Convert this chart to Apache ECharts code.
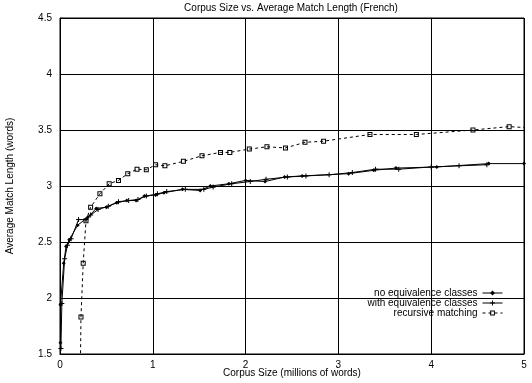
<!DOCTYPE html>
<html>
<head>
<meta charset="utf-8">
<script src="https://cdn.jsdelivr.net/npm/echarts@6/dist/echarts.min.js"></script>
<style>html,body{margin:0;padding:0;background:#fff}#c{width:532px;height:383px}</style>
</head>
<body>
<div id="c"></div>
<script>
var titleText = 'Corpus Size vs. Average Match Length (French)';
var xName = 'Corpus Size (millions of words)';
var yName = 'Average Match Length (words)';
var seriesNames = ['no equivalence classes', 'with equivalence classes', 'recursive matching'];

var noEquiv = [[0.005,1.60],[0.005,1.94],[0.04,2.31],[0.065,2.46],[0.10,2.52],[0.19,2.65],[0.30,2.72],[0.39,2.80],[0.50,2.81],[0.61,2.85],[0.72,2.87],[0.82,2.87],[0.91,2.91],[1.03,2.92],[1.12,2.94],[1.32,2.97],[1.51,2.96],[1.62,3.00],[1.82,3.02],[2.00,3.05],[2.21,3.04],[2.42,3.08],[2.61,3.09],[3.11,3.11],[3.38,3.14],[3.62,3.16],[4.06,3.17],[4.62,3.20],[5.00,3.20]];
var withEquiv = [[0.01,1.55],[0.02,1.95],[0.05,2.35],[0.08,2.47],[0.12,2.53],[0.20,2.70],[0.28,2.70],[0.33,2.74],[0.41,2.79],[0.52,2.82],[0.63,2.86],[0.74,2.87],[0.84,2.88],[0.93,2.91],[1.05,2.93],[1.15,2.95],[1.35,2.97],[1.55,2.97],[1.65,2.99],[1.85,3.02],[2.05,3.04],[2.22,3.06],[2.45,3.08],[2.65,3.09],[2.90,3.10],[3.15,3.12],[3.40,3.15],[3.65,3.15],[4.00,3.17],[4.30,3.18],[4.60,3.19]];
var recursive = [[0.22,1.40],[0.226,1.83],[0.25,2.31],[0.28,2.69],[0.33,2.81],[0.43,2.93],[0.53,3.02],[0.63,3.05],[0.73,3.11],[0.83,3.15],[0.93,3.145],[1.03,3.19],[1.13,3.18],[1.33,3.22],[1.53,3.27],[1.73,3.30],[1.83,3.30],[2.04,3.33],[2.23,3.35],[2.43,3.34],[2.64,3.39],[2.84,3.40],[3.34,3.46],[3.84,3.46],[4.45,3.50],[4.84,3.53],[5.05,3.52]];

var font = 'Liberation Sans, Arial, Helvetica, sans-serif';
var chart = echarts.init(document.getElementById('c'), null, {renderer: 'canvas'});
var plusPath = 'path://M4,0H6V4H10V6H6V10H4V6H0V4H4Z';
var hollowSquare = 'path://M0,0H10V10H0Z M2,2V8H8V2Z';
chart.setOption({
  animation: false,
  backgroundColor: '#fff',
  title: {text: titleText, left: 286, top: -2, textAlign: 'center',
    textStyle: {fontFamily: font, fontSize: 10, fontWeight: 'normal', color: '#000'}},
  grid: {left: 60, right: 8, top: 18, bottom: 29, show: true, borderColor: '#000', borderWidth: 1,
    containLabel: false, outerBoundsMode: 'none'},
  legend: {
    orient: 'vertical', right: 24, top: 283, align: 'right', itemWidth: 20, itemHeight: 6, itemGap: 0,
    lineStyle: {width: 1},
    textStyle: {fontFamily: font, fontSize: 10, color: '#000', padding: [0, 0, 0, 0]},
    data: seriesNames
  },
  xAxis: {
    type: 'value', min: 0, max: 5, interval: 1,
    name: xName, nameLocation: 'middle', nameGap: 14, nameMoveOverlap: false,
    nameTextStyle: {fontFamily: font, fontSize: 10, color: '#000'},
    axisLine: {lineStyle: {color: '#000'}},
    axisTick: {show: false},
    axisLabel: {fontFamily: font, fontSize: 10, color: '#000', margin: 6},
    splitLine: {show: true, lineStyle: {color: '#000', width: 1}}
  },
  yAxis: {
    type: 'value', min: 1.5, max: 4.5, interval: 0.5,
    name: yName, nameLocation: 'middle', nameGap: 45, nameMoveOverlap: false,
    nameTextStyle: {fontFamily: font, fontSize: 10, color: '#000'},
    axisLine: {lineStyle: {color: '#000'}},
    axisTick: {show: false},
    axisLabel: {fontFamily: font, fontSize: 10, color: '#000', margin: 8},
    splitLine: {show: true, lineStyle: {color: '#000', width: 1}}
  },
  series: [
    {name: seriesNames[0], type: 'line', data: noEquiv, symbol: 'diamond', symbolSize: 4,
      lineStyle: {color: '#000', width: 1}, itemStyle: {color: '#000'}},
    {name: seriesNames[1], type: 'line', data: withEquiv, symbol: plusPath, symbolSize: 5,
      lineStyle: {color: '#000', width: 1}, itemStyle: {color: '#000'}},
    {name: seriesNames[2], type: 'line', data: recursive, symbol: hollowSquare, symbolSize: 5,
      lineStyle: {color: '#000', width: 1, type: [3, 3]}, itemStyle: {color: '#000', borderWidth: 0}}
  ]
});
</script>
</body>
</html>
